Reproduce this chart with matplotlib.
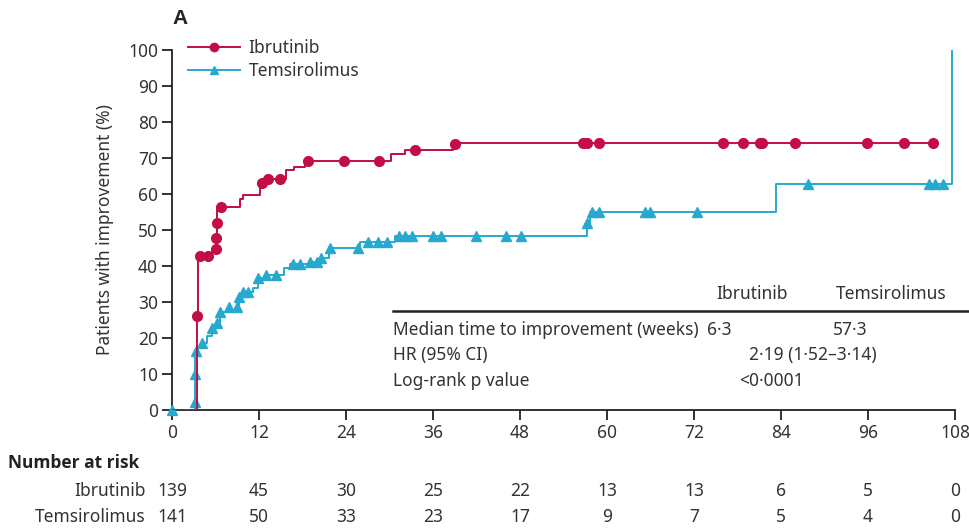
import numpy as np
import matplotlib.pyplot as plt
from matplotlib.lines import Line2D

plt.rcParams['font.family'] = ['Noto Sans', 'DejaVu Sans']

# ---- data ----
weeks_ticks = [0, 12, 24, 36, 48, 60, 72, 84, 96, 108]
pct_ticks = [0, 10, 20, 30, 40, 50, 60, 70, 80, 90, 100]

# Ibrutinib cumulative improvement (step, post)
ibr_t = [0, 3.4, 3.6, 5.5, 6.2, 9.4, 9.8, 12.2, 12.6, 13.3, 15.7, 16.8, 18.4, 30.2, 32.2, 38.8, 105.0]
ibr_y = [0, 26.1, 42.8, 44.6, 56.5, 58.5, 59.6, 62.6, 63.4, 64.2, 66.6, 67.4, 69.2, 71.0, 72.2, 74.3, 74.3]
# Ibrutinib censor marks
ibr_ct = [3.4, 3.9, 5.0, 6.1, 6.1, 6.2, 6.8, 12.4, 13.3, 14.9, 18.8, 23.7, 28.6, 33.5, 39.1,
          56.7, 57.3, 58.9, 76.0, 78.7, 81.1, 81.4, 85.9, 95.8, 101.0, 105.0]
ibr_cy = [26.1, 42.8, 42.8, 44.6, 47.7, 52.0, 56.5, 63.0, 64.2, 64.2, 69.2, 69.2, 69.2, 72.2, 73.8,
          74.3, 74.3, 74.3, 74.3, 74.3, 74.3, 74.3, 74.3, 74.3, 74.3, 74.3]

# Temsirolimus cumulative improvement (step, post)
tem_t = [0, 3.2, 3.6, 4.1, 4.8, 5.5, 6.2, 6.6, 8.8, 9.2, 9.8, 11.2, 11.9, 12.8, 15.4, 16.3,
         19.0, 20.6, 21.6, 25.9, 30.8, 57.3, 57.6, 83.3, 107.6]
tem_y = [0, 16.2, 17.4, 18.6, 20.5, 22.8, 24.2, 27.3, 28.7, 31.5, 32.9, 33.8, 36.6, 37.5, 39.5, 40.5,
         41.2, 42.2, 45.0, 46.8, 48.3, 52.0, 55.1, 62.8, 100.0]
# Temsirolimus censor marks
tem_ct = [0.0, 3.2, 3.2, 3.3, 4.1, 5.5, 6.2, 6.6, 7.8, 8.9, 9.2, 9.8, 10.5, 11.9, 13.0, 14.4,
          16.7, 17.7, 19.0, 20.0, 20.6, 21.8, 25.7, 27.0, 28.4, 29.6, 31.3, 32.1, 33.1, 36.0, 37.1,
          42.0, 46.1, 48.2, 57.3, 57.9, 58.9, 65.2, 65.9, 72.4, 87.7, 104.4, 105.3, 106.3]
tem_cy = [0.0, 2.3, 9.9, 16.4, 18.6, 22.8, 24.2, 27.3, 28.7, 28.7, 31.5, 32.9, 32.9, 36.6, 37.5, 37.5,
          40.5, 40.5, 41.2, 41.2, 42.2, 45.0, 45.0, 46.8, 46.8, 46.8, 48.3, 48.3, 48.3, 48.3, 48.3,
          48.3, 48.3, 48.3, 52.0, 55.1, 55.1, 55.1, 55.1, 55.1, 62.8, 62.8, 62.8, 62.8]

risk_ibr = [139, 45, 30, 25, 22, 13, 13, 6, 5, 0]
risk_tem = [141, 50, 33, 23, 17, 9, 7, 5, 4, 0]

red = '#c20e44'
teal = '#27a9cf'
W, H = 970, 530


def fx(x):
    return x / W


def fy(y):
    return 1 - y / H


fig = plt.figure(figsize=(9.7, 5.3), dpi=100)
ax = fig.add_axes([fx(172), fy(410), (955 - 172) / W, (410 - 50) / H])

ax.step(tem_t, tem_y, where='post', color=teal, lw=1.4, zorder=2)
ax.plot(tem_ct, tem_cy, ls='none', marker='^', ms=7, color=teal, mec=teal, zorder=3, clip_on=False)
ax.step(ibr_t, ibr_y, where='post', color=red, lw=1.4, zorder=4)
ax.plot(ibr_ct, ibr_cy, ls='none', marker='o', ms=7, color=red, mec=red, zorder=5, clip_on=False)

ax.set_xlim(0, 108)
ax.set_ylim(0, 100)
ax.set_xticks(weeks_ticks)
ax.set_yticks(pct_ticks)
for s in ['top', 'right']:
    ax.spines[s].set_visible(False)
for s in ['left', 'bottom']:
    ax.spines[s].set_linewidth(1.3)
    ax.spines[s].set_color('#222222')
ax.tick_params(axis='both', direction='out', length=7, width=1.3, color='#222222',
               labelsize=12.5, labelcolor='#333333', pad=3)
ax.set_ylabel('Patients with improvement (%)', fontsize=12.5, color='#333333', labelpad=10)

handles = [Line2D([], [], color=red, lw=1.4, marker='o', ms=6),
           Line2D([], [], color=teal, lw=1.4, marker='^', ms=6)]
ax.legend(handles, ['Ibrutinib', 'Temsirolimus'], loc='upper left', bbox_to_anchor=(0.0, 1.075),
          frameon=False, fontsize=12.5, handlelength=3.0, handletextpad=0.5, labelspacing=0.3,
          labelcolor='#333333')

fig.text(fx(172), fy(18), 'A', fontsize=15, fontweight='bold', family='Liberation Sans',
         color='#222222', va='center')

# summary table
fig.add_artist(Line2D([fx(393), fx(970)], [fy(311), fy(311)], color='#222222', lw=1.8))
tk = dict(fontsize=12.5, color='#333333', va='center')
fig.text(fx(752), fy(294), 'Ibrutinib', ha='center', **tk)
fig.text(fx(891), fy(294), 'Temsirolimus', ha='center', **tk)
fig.text(fx(393), fy(330), 'Median time to improvement (weeks)', ha='left', **tk)
fig.text(fx(707), fy(330), '6·3', ha='left', **tk)
fig.text(fx(850), fy(330), '57·3', ha='center', **tk)
fig.text(fx(393), fy(355), 'HR (95% CI)', ha='left', **tk)
fig.text(fx(813), fy(355), '2·19 (1·52–3·14)', ha='center', **tk)
fig.text(fx(393), fy(381), 'Log-rank p value', ha='left', **tk)
fig.text(fx(771), fy(381), '<0·0001', ha='center', **tk)

# number at risk
fig.text(fx(8), fy(463), 'Number at risk', fontsize=12.5, fontweight='bold',
         family=['Open Sans', 'Liberation Sans'], color='#222222', ha='left', va='center')
rows = [('Ibrutinib', risk_ibr, 491), ('Temsirolimus', risk_tem, 517)]
for name, vals, ypx in rows:
    fig.text(fx(146), fy(ypx), name, ha='right', **tk)
    ytr = (410 - ypx) / 360
    for w, v in zip(weeks_ticks, vals):
        ax.text(w, ytr, str(v), transform=ax.get_xaxis_transform(), ha='center', clip_on=False, **tk)

fig.savefig('out.png', dpi=100)
